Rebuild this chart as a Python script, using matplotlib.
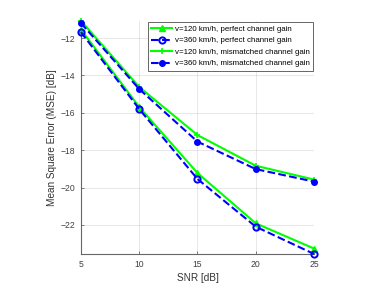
import matplotlib
matplotlib.use("Agg")
import matplotlib.pyplot as plt

snr = [5, 10, 15, 20, 25]
v120_perfect = [-11.55, -15.69, -19.22, -21.91, -23.26]
v360_perfect = [-11.68, -15.80, -19.54, -22.09, -23.55]
v120_mismatch = [-11.08, -14.62, -17.19, -18.83, -19.57]
v360_mismatch = [-11.20, -14.73, -17.54, -19.01, -19.68]
labels = ["v=120 km/h, perfect channel gain",
          "v=360 km/h, perfect channel gain",
          "v=120 km/h, mismatched channel gain",
          "v=360 km/h, mismatched channel gain"]
yticks = [-22, -20, -18, -16, -14, -12]
xticks = [5, 10, 15, 20, 25]

plt.rcParams['font.family'] = ['Liberation Sans', 'DejaVu Sans']

fig = plt.figure(figsize=(3.82, 2.86), dpi=100)
ax = fig.add_axes([0.212, 0.112, 0.610, 0.815])

green = (0, 1, 0)
blue = (0, 0, 1)
l1, = ax.plot(snr, v120_perfect, '-', color=green, lw=1.5, marker='^', ms=4.5,
              mfc=green, mec=green, clip_on=False, zorder=3)
l2, = ax.plot(snr, v360_perfect, '--', color=blue, lw=1.5, marker='o', ms=4.5,
              mfc='none', mec=blue, mew=1.4, clip_on=False, zorder=4)
l3, = ax.plot(snr, v120_mismatch, '-', color=green, lw=1.5, marker='+', ms=5,
              mec=green, mew=1.2, clip_on=False, zorder=3)
l4, = ax.plot(snr, v360_mismatch, '--', color=blue, lw=1.5, marker='.', ms=8,
              mfc=blue, mec=blue, clip_on=False, zorder=4)

allv = v120_perfect + v360_perfect + v120_mismatch + v360_mismatch
ax.set_xlim(min(snr), max(snr))
ax.set_ylim(min(allv), max(allv))
ax.set_xticks(xticks)
ax.set_yticks(yticks)
ax.grid(True, color=(0.15, 0.15, 0.15), alpha=0.12, lw=0.6)
ax.set_axisbelow(True)

for s in ['top', 'right']:
    ax.spines[s].set_visible(False)
for s in ['left', 'bottom']:
    ax.spines[s].set_color((0.4, 0.4, 0.4))
    ax.spines[s].set_linewidth(0.8)
ax.tick_params(direction='in', length=2, width=0.6, colors=(0.4, 0.4, 0.4),
               labelcolor=(0.25, 0.25, 0.25), labelsize=6.2, pad=4)

ax.set_xlabel("SNR [dB]", fontsize=7.2, color=(0.2, 0.2, 0.2), labelpad=3)
ax.set_ylabel("Mean Square Error (MSE) [dB]", fontsize=7.2, color=(0.2, 0.2, 0.2), labelpad=3)

leg = ax.legend([l1, l2, l3, l4], labels, loc='upper right', fontsize=5.7,
                frameon=True, fancybox=False, borderpad=0.45, labelspacing=0.5,
                handlelength=2.6, handletextpad=0.35, borderaxespad=0.1,
                bbox_to_anchor=(1.0, 1.0))
leg.get_frame().set_edgecolor((0.3, 0.3, 0.3))
leg.get_frame().set_linewidth(0.6)
leg.get_frame().set_alpha(1)

fig.savefig("out.png", dpi=100)
